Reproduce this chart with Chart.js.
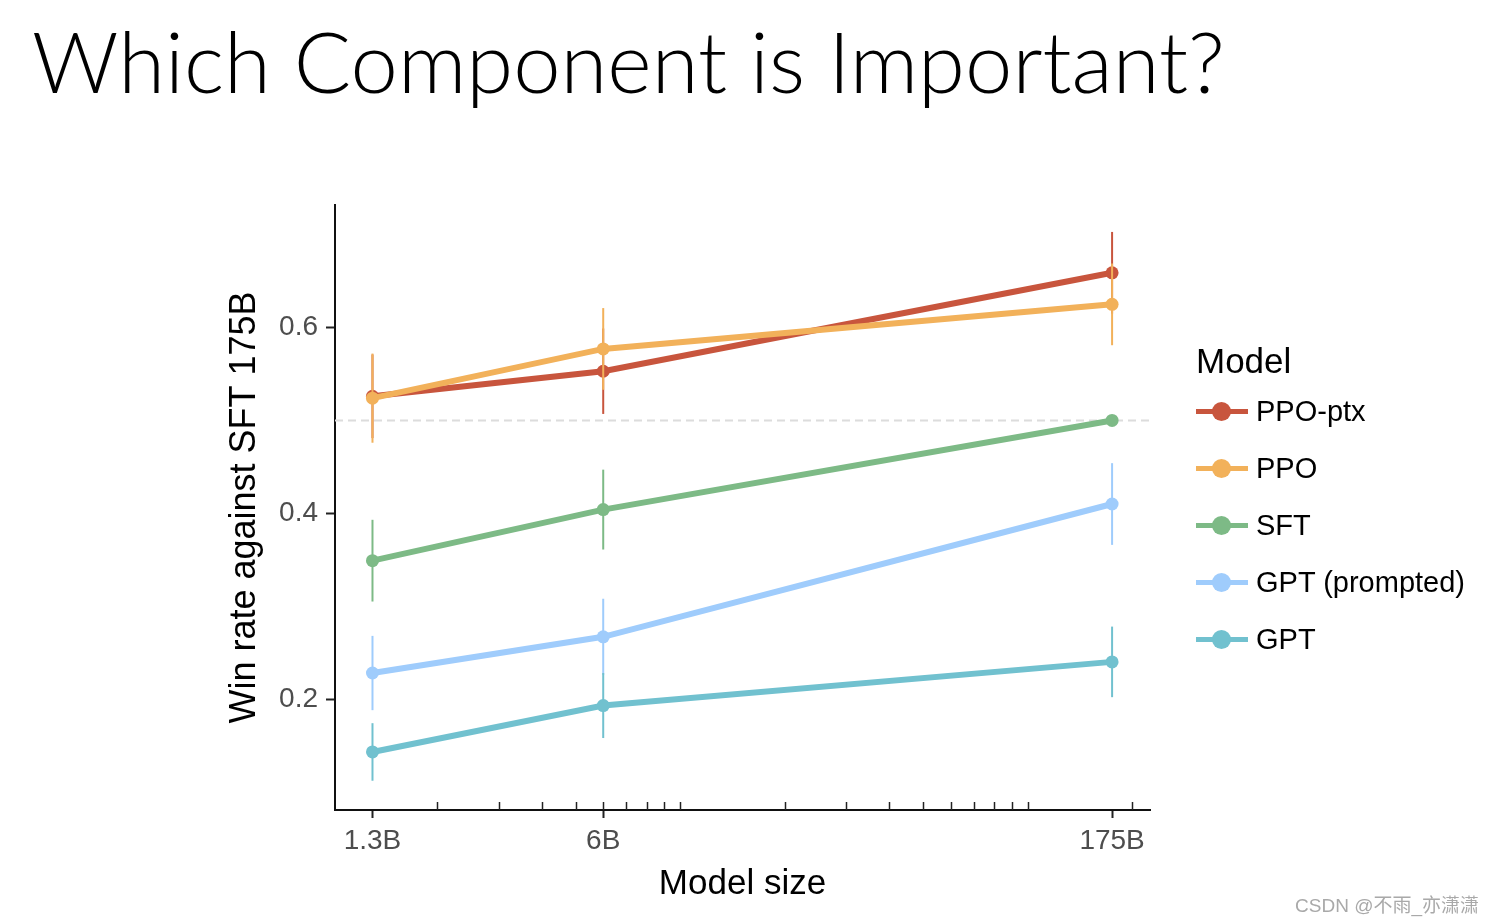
<!DOCTYPE html>
<html>
<head>
<meta charset="utf-8">
<script src="https://cdn.jsdelivr.net/npm/chart.js@4.4.1/dist/chart.umd.min.js"></script>
<style>
  html, body { margin: 0; padding: 0; background: #fff; }
  body { width: 1495px; height: 921px; position: relative; overflow: hidden; }
  #chart { position: absolute; left: 0; top: 0; }
  .title {
    position: absolute; left: 32px; top: 10px;
    font-family: Lato, "Open Sans", "Noto Sans", sans-serif;
    font-weight: 300; font-size: 85px; line-height: 100px; color: #000;
    white-space: nowrap;
  }
  .legend {
    position: absolute; left: 1196px; top: 338px;
    font-family: "Liberation Sans", Arial, Helvetica, sans-serif; color: #000;
  }
  .legend .head { font-size: 35px; line-height: 46px; margin-bottom: 27px; }
  .legend .item { position: relative; height: 57px; line-height: 0; font-size: 29px; }
  .legend .bar { position: absolute; left: 0; top: 0; width: 52px; height: 5px; margin-top: -2.5px; }
  .legend .dot { position: absolute; left: 16px; top: 0; width: 19px; height: 19px; margin-top: -9.5px; border-radius: 50%; }
  .legend .txt { position: absolute; left: 60px; top: 0; line-height: 32px; margin-top: -16px; white-space: nowrap; }
  .mark {
    position: absolute; right: 16px; top: 890px;
    font-family: "Liberation Sans", Arial, "Noto Sans CJK SC", sans-serif;
    font-size: 19px; color: #a9a9a9; white-space: nowrap;
  }
</style>
</head>
<body>
<div class="title">Which Component is Important?</div>
<canvas id="chart" width="1495" height="921"></canvas>
<div class="legend" id="legend"></div>
<div class="mark">CSDN @不雨_亦潇潇</div>
<script>
// model sizes in billions of parameters (x axis is log scale)
const sizes = [1.3, 6, 175];
const sizeLabels = ["1.3B", "6B", "175B"];
const minorTicks = [2, 3, 4, 5, 6, 7, 8, 9, 10, 20, 30, 40, 50, 60, 70, 80, 90, 100, 200];
const yTicks = [0.2, 0.4, 0.6];
const baseline = 0.5;

const seriesNames = ["PPO-ptx", "PPO", "SFT", "GPT (prompted)", "GPT"];
const seriesColors = ["#c8553d", "#f2b15a", "#7dba86", "#9fccfc", "#71c1cf"];

// win rate against SFT 175B
const ppoPtx = [0.526, 0.553, 0.659];
const ppo = [0.524, 0.577, 0.625];
const sft = [0.349, 0.404, 0.5];
const gptPrompted = [0.228, 0.267, 0.41];
const gpt = [0.143, 0.193, 0.24];

// half-width of the error bars
const ppoPtxErr = [0.045, 0.046, 0.044];
const ppoErr = [0.048, 0.044, 0.044];
const sftErr = [0.044, 0.043, 0];
const gptPromptedErr = [0.04, 0.041, 0.044];
const gptErr = [0.031, 0.035, 0.038];

const seriesValues = [ppoPtx, ppo, sft, gptPrompted, gpt];
const seriesErrors = [ppoPtxErr, ppoErr, sftErr, gptPromptedErr, gptErr];

document.addEventListener("DOMContentLoaded", function () {
  Chart.defaults.font.family = "'Liberation Sans', Arial, Helvetica, sans-serif";
  Chart.defaults.color = "#4d4d4d";

  // error bars drawn just under each series' own line
  const errorBars = {
    id: "errorBars",
    beforeDatasetDraw(chart, args) {
      const ds = chart.data.datasets[args.index];
      const xs = chart.scales.x, ys = chart.scales.y;
      const ctx = chart.ctx;
      ctx.save();
      ctx.strokeStyle = ds.borderColor;
      ctx.lineWidth = 2;
      ds.data.forEach((p, i) => {
        const e = ds.errors[i];
        if (!e) return;
        const x = xs.getPixelForValue(p.x);
        ctx.beginPath();
        ctx.moveTo(x, ys.getPixelForValue(p.y - e));
        ctx.lineTo(x, ys.getPixelForValue(p.y + e));
        ctx.stroke();
      });
      ctx.restore();
    },
  };

  // dashed line at 0.5 and inward minor ticks on the log axis
  const extras = {
    id: "extras",
    beforeDatasetsDraw(chart) {
      const { ctx, chartArea } = chart;
      const y = chart.scales.y.getPixelForValue(baseline);
      ctx.save();
      ctx.strokeStyle = "#dcdcdc";
      ctx.lineWidth = 2;
      ctx.setLineDash([8, 5]);
      ctx.beginPath();
      ctx.moveTo(chartArea.left, y);
      ctx.lineTo(chartArea.right, y);
      ctx.stroke();
      ctx.restore();
    },
    afterDraw(chart) {
      const { ctx, chartArea } = chart;
      const xs = chart.scales.x;
      ctx.save();
      ctx.strokeStyle = "#222";
      ctx.lineWidth = 1.5;
      minorTicks.forEach((v) => {
        const x = Math.round(xs.getPixelForValue(v)) + 0.5;
        ctx.beginPath();
        ctx.moveTo(x, chartArea.bottom);
        ctx.lineTo(x, chartArea.bottom - 8);
        ctx.stroke();
      });
      ctx.restore();
    },
  };

  const datasets = seriesNames.map((name, s) => ({
    label: name,
    data: sizes.map((x, i) => ({ x: x, y: seriesValues[s][i] })),
    errors: seriesErrors[s],
    borderColor: seriesColors[s],
    backgroundColor: seriesColors[s],
    pointBackgroundColor: seriesColors[s],
    pointBorderWidth: 0,
    pointRadius: 6.5,
    borderWidth: 6,
    tension: 0,
    order: seriesNames.length - s,
  }));

  new Chart(document.getElementById("chart"), {
    type: "line",
    data: { datasets: datasets },
    plugins: [errorBars, extras],
    options: {
      responsive: false,
      animation: false,
      events: [],
      layout: { padding: { left: 210, right: 345, top: 205, bottom: 0 } },
      plugins: { legend: { display: false }, tooltip: { enabled: false } },
      scales: {
        x: {
          type: "logarithmic",
          min: 1.014,
          max: 225,
          afterBuildTicks: (scale) => {
            scale.ticks = sizes.map((v) => ({ value: v }));
          },
          afterFit: (scale) => {
            scale.height = 111;
          },
          ticks: {
            autoSkip: false,
            maxRotation: 0,
            padding: 6,
            color: "#4d4d4d",
            font: { size: 28 },
            callback: (v, i) => sizeLabels[i],
          },
          grid: { drawOnChartArea: false, tickLength: 8, tickColor: "#222", tickWidth: 2 },
          border: { color: "#111", width: 2 },
          title: {
            display: true,
            text: "Model size",
            color: "#000",
            font: { size: 35 },
            padding: { top: 0, bottom: 16 },
          },
        },
        y: {
          min: 0.0805,
          max: 0.732,
          afterBuildTicks: (scale) => {
            scale.ticks = yTicks.map((v) => ({ value: v }));
          },
          afterFit: (scale) => {
            scale.width = 125;
          },
          ticks: {
            padding: 8,
            color: "#4d4d4d",
            font: { size: 28 },
            callback: (v) => v.toFixed(1),
          },
          grid: { drawOnChartArea: false, tickLength: 9, tickColor: "#222", tickWidth: 2 },
          border: { color: "#111", width: 2 },
          title: {
            display: true,
            text: "Win rate against SFT 175B",
            color: "#000",
            font: { size: 36 },
            padding: { top: 13, bottom: 0 },
          },
        },
      },
    },
  });

  // legend with line-and-dot keys
  const legend = document.getElementById("legend");
  let html = '<div class="head">Model</div>';
  seriesNames.forEach((name, s) => {
    html +=
      '<div class="item"><span class="bar" style="background:' + seriesColors[s] + '"></span>' +
      '<span class="dot" style="background:' + seriesColors[s] + '"></span>' +
      '<span class="txt">' + name + "</span></div>";
  });
  legend.innerHTML = html;
});
</script>
</body>
</html>
